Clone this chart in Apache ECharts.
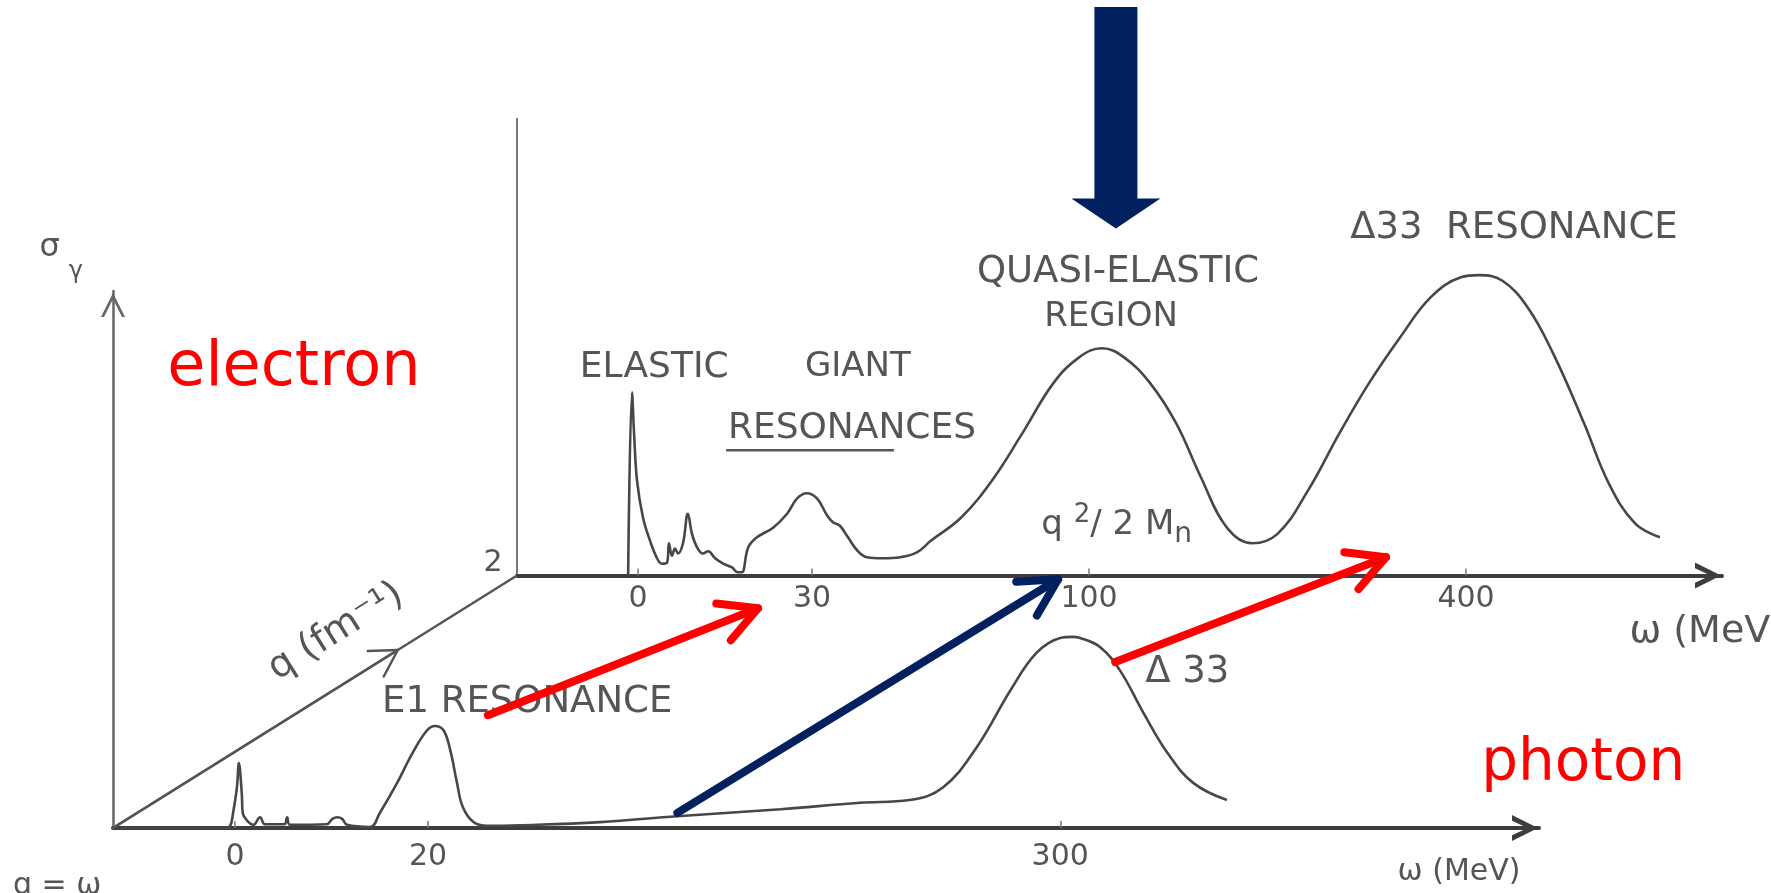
<!DOCTYPE html>
<html>
<head>
<meta charset="utf-8">
<script src="https://cdn.jsdelivr.net/npm/echarts@6/dist/echarts.min.js"></script>
<style>
  html, body { margin: 0; padding: 0; background: #ffffff; }
  #chart { width: 1771px; height: 893px; }
</style>
</head>
<body>
<div id="chart"></div>
<script>
// Real photoabsorption cross section (front plane, q = ω), ω in MeV
const photonOmega = [-12, -1.0, -0.5, -0.2, 0.2, 0.4, 0.7, 0.8, 1.2, 1.9, 2.6, 3.1, 5.1, 5.4, 5.7,
  9.5, 10.1, 10.6, 11.1, 11.6, 14.0, 15.0, 16.8, 18.4, 19.9, 20.7, 21.6, 22.3, 23.0, 23.6, 24.7,
  26.1, 29.5, 68, 107, 159, 199, 224, 241, 258, 275, 288, 300, 306, 310, 320, 330, 342, 354, 367, 384];
const photonSigma = [0, 0, 0.4, 2.8, 7.6, 12.1, 6.5, 2.8, 1.5, 0.6, 2.0, 0.7, 0.7, 2.0, 0.6,
  0.7, 1.7, 2.0, 1.7, 0.6, 0.2, 2.8, 8.4, 14.0, 18.2, 19.0, 18.2, 14.5, 8.4, 3.9, 1.1,
  0.4, 0.5, 1.1, 2.2, 3.5, 4.7, 5.2, 7.6, 15.1, 25.7, 32.6, 35.4, 35.6, 35.4, 33.7, 29.4, 21.4, 14.0, 8.4, 5.2];

// Inclusive electron scattering at fixed momentum transfer (back plane, q ≈ 2 fm^-1)
const electronOmega = [-1.7, -1.03, -0.7, -0.17, 0.86, 2.07, 3.28, 4.14, 5.0, 5.34, 5.86, 6.38, 6.9,
  7.76, 8.6, 9.3, 10.2, 11.2, 12.1, 13.3, 14.7, 16.2, 17.2, 17.9, 19.0, 20.5, 23.3, 25.7, 27.4, 29.1,
  31.3, 33.8, 35.3, 37.0, 39.1, 41.4, 43.9, 47.9, 52.3, 56.5, 60.1, 67.7, 75.5, 83.1, 91.0, 97.5,
  110.3, 127.9, 148.6, 169.4, 189.2, 209.8, 229.8, 250.2, 274.2, 299.1, 322.8, 347.5, 372.0, 396.0,
  410.3, 428.7, 449.1, 469.4, 494.0, 513.7, 534.5, 554.3];
const electronSigma = [0, 34.1, 27, 17.7, 10.8, 6.5, 3.2, 2.2, 2.4, 6.0, 3.7, 5.0, 4.1,
  6.0, 11.5, 7.8, 5.2, 4.1, 4.5, 3.2, 2.2, 1.5, 0.6, 0.6, 5.2, 7.1, 8.9, 11.5, 14.3, 15.3,
  14.3, 11.2, 9.9, 9.3, 7.1, 4.7, 3.4, 3.2, 3.4, 4.3, 6.5, 10.8, 17.7, 26.4, 35.8, 40.6,
  42.3, 40.6, 35.8, 28.3, 18.2, 8.9, 6.0, 7.8, 15.8, 26.4, 35.8, 44.3, 51.8, 55.5,
  55.9, 54.9, 49.9, 41.3, 28.3, 17.1, 9.7, 7.1];

// Tick labels on the two ω axes
const photonTicks = [0, 20, 300];
const electronTicks = [0, 30, 100, 400];

// Broken ω scales: full resolution at low ω, compressed above the breaks
function brokenScale(knots) {
  return function (w) {
    for (let i = 1; i < knots.length; i++) {
      if (w <= knots[i][0] || i === knots.length - 1) {
        const a = knots[i - 1], b = knots[i];
        return a[1] + (w - a[0]) * (b[1] - a[1]) / (b[0] - a[0]);
      }
    }
  };
}
const photonScale = brokenScale([[0, 0], [30, 30], [300, 85.5]]);
const electronScale = brokenScale([[0, 0], [30, 30], [100, 77.76], [400, 142.76]]);

const INK = '#474747';
const TEXT = '#555555';
const RED = '#ff0000';
const NAVY = '#002060';
const FONT = "'DejaVu Sans', 'Liberation Sans', sans-serif";

// open chevrons pointing along the axis
const CHEVRON = 'path://M0,20 L10,0 L20,20 L15.5,20 L10,8 L4.5,20 Z';
const CHEVRON_THIN = 'path://M0,20 L10,0 L20,20 L17.5,20 L10,5 L2.5,20 Z';

function tickFormatter(ticks, scale) {
  return function (v) {
    const t = ticks.find(function (k) { return Math.abs(scale(k) - v) < 1e-6; });
    return t === undefined ? '' : String(t);
  };
}

function omegaAxis(gridIndex, ticks, scale, wMin, wMax, margin, arrowSize) {
  return {
    type: 'value', gridIndex: gridIndex,
    min: scale(wMin), max: scale(wMax),
    axisLine: { show: true, onZero: false, symbol: ['none', CHEVRON], symbolSize: arrowSize,
      symbolOffset: [0, -14], lineStyle: { color: '#3d3d3d', width: 4 } },
    axisTick: { show: true, inside: true, length: 7, customValues: ticks.map(scale),
      lineStyle: { color: '#777', width: 1.5 } },
    axisLabel: { show: true, customValues: ticks.map(scale), formatter: tickFormatter(ticks, scale),
      margin: margin, color: TEXT, fontSize: 30, fontFamily: FONT },
    splitLine: { show: false }
  };
}

const option = {
  backgroundColor: '#ffffff',
  animation: false,
  grid: [
    { left: 113, top: 291, width: 1426, height: 537 },
    { left: 517, top: 118.8, width: 1205, height: 456.7 }
  ],
  xAxis: [
    omegaAxis(0, photonTicks, photonScale, -12.64, 541.3, 14, [26, 34]),
    omegaAxis(1, electronTicks, electronScale, -20.86, 603.7, 9, [26, 36])
  ],
  yAxis: [
    { type: 'value', gridIndex: 0, min: 0, max: 100,
      axisLine: { show: true, onZero: false, symbol: ['none', CHEVRON_THIN], symbolSize: [24, 34],
        symbolOffset: [0, -14], lineStyle: { color: '#666', width: 2.5 } },
      axisTick: { show: false }, axisLabel: { show: false }, splitLine: { show: false } },
    { type: 'value', gridIndex: 1, min: 0, max: 85,
      axisLine: { show: true, onZero: false, lineStyle: { color: '#777', width: 2 } },
      axisTick: { show: false }, axisLabel: { show: false }, splitLine: { show: false } }
  ],
  series: [
    { name: 'photon', type: 'line', xAxisIndex: 0, yAxisIndex: 0, showSymbol: false, smooth: 0.4,
      z: 3, lineStyle: { color: INK, width: 2.6 },
      data: photonOmega.map(function (w, i) { return [photonScale(w), photonSigma[i]]; }) },
    { name: 'electron', type: 'line', xAxisIndex: 1, yAxisIndex: 1, showSymbol: false, smooth: 0.4,
      z: 3, lineStyle: { color: INK, width: 2.6 },
      data: electronOmega.map(function (w, i) { return [electronScale(w), electronSigma[i]]; }) }
  ]
};

const chart = echarts.init(document.getElementById('chart'), null, { renderer: 'canvas' });
chart.setOption(option);

// pixel position of (ω, σ) in the photon (0) or electron (1) plane
function at(plane, w, s) {
  const scale = plane === 0 ? photonScale : electronScale;
  return chart.convertToPixel({ gridIndex: plane }, [scale(w), s]);
}

function label(p, text, size, extra) {
  extra = extra || {};
  const align = extra.align || 'center';
  return {
    type: 'text', x: p[0], y: p[1], rotation: extra.rotation || 0, z: 50,
    style: {
      text: text, fill: extra.color || TEXT,
      font: (extra.weight || 'normal') + ' ' + size + 'px ' + (extra.family || FONT),
      align: align, textAlign: align, verticalAlign: 'middle', textVerticalAlign: 'middle',
      rich: extra.rich
    }
  };
}

function arrow(tail, tip, color, width, armLen, spreadDeg) {
  const dx = tip[0] - tail[0], dy = tip[1] - tail[1], L = Math.hypot(dx, dy);
  const bx = -dx / L, by = -dy / L, a = spreadDeg * Math.PI / 180;
  function wing(sign) {
    const c = Math.cos(sign * a), s = Math.sin(sign * a);
    return [tip[0] + armLen * (bx * c - by * s), tip[1] + armLen * (bx * s + by * c)];
  }
  const st = { stroke: color, lineWidth: width, lineCap: 'round', lineJoin: 'round', fill: 'none' };
  return [
    { type: 'polyline', z: 100, shape: { points: [tail, tip] }, style: st },
    { type: 'polyline', z: 100, shape: { points: [wing(1), tip, wing(-1)] }, style: st }
  ];
}

// q axis joining the two planes
const o0 = at(0, -12.64, 0), o1 = at(1, -20.86, 0);
const qTip = [o0[0] + 0.705 * (o1[0] - o0[0]), o0[1] + 0.705 * (o1[1] - o0[1])];
const qAng = Math.atan2(o0[1] - o1[1], o1[0] - o0[0]);
const qLen = Math.hypot(o1[0] - o0[0], o1[1] - o0[1]);
const qDir = [(o1[0] - o0[0]) / qLen, (o1[1] - o0[1]) / qLen];
const qNorm = [qDir[1], -qDir[0]];
const qLab = [o0[0] + 0.615 * (o1[0] - o0[0]) + 48 * qNorm[0], o0[1] + 0.615 * (o1[1] - o0[1]) + 48 * qNorm[1]];

// big marker over the quasi-elastic region
const bigTip = at(1, 121.4, 64.6), bigTop = at(1, 121.4, 105.8);
const bigArrow = {
  type: 'polygon', z: 100,
  shape: { points: [
    [bigTip[0] - 21.5, bigTop[1]], [bigTip[0] + 21.5, bigTop[1]], [bigTip[0] + 21.5, bigTip[1] - 30],
    [bigTip[0] + 44.5, bigTip[1] - 30], [bigTip[0], bigTip[1]], [bigTip[0] - 44.5, bigTip[1] - 30],
    [bigTip[0] - 21.5, bigTip[1] - 30]
  ] },
  style: { fill: NAVY }
};

const underA = at(1, 15.2, 23.3), underB = at(1, 50.7, 23.3);

const graphics = [
  { type: 'polyline', z: 4, shape: { points: [o0, o1] }, style: { stroke: '#555', lineWidth: 2.5, fill: 'none' } }
].concat(arrow(o0, qTip, '#555', 2.5, 30, 30)).concat([
  label(qLab, 'q (fm⁻¹)', 38, { rotation: qAng }),
  label(at(1, -25, 2.2), '2', 30),
  label(at(0, -19.2, 108), 'σ', 32),
  label(at(0, -16.5, 103.5), 'γ', 24),
  label(at(0, -23, -10.8), 'q = ω', 30, { align: 'left' }),
  label(at(0, 501, -8.2), 'ω (MeV)', 30),
  label(at(1, 530, -10.6), 'ω (MeV)', 38, { align: 'left' }),
  label(at(0, 31.3, 23.3), 'E1 RESONANCE', 37),
  label(at(0, 364, 29.0), 'Δ 33', 37),
  label(at(1, 2.8, 38.7), 'ELASTIC', 36),
  label(at(1, 41.6, 38.7), 'GIANT', 34),
  label(at(1, 40.1, 27.4), 'RESONANCES', 36),
  { type: 'line', z: 50, shape: { x1: underA[0], y1: underA[1], x2: underB[0], y2: underB[1] },
    style: { stroke: '#555', lineWidth: 2.5 } },
  label(at(1, 123.1, 56.4), 'QUASI-ELASTIC', 37),
  label(at(1, 117.5, 48.0), 'REGION', 34),
  label(at(1, 438.1, 64.6), 'Δ33  RESONANCE', 37),
  label(at(1, 122, 9.3), '{b|q }{sup|2}{b|/ 2 M}{sub|n}', 34, {
    rich: {
      b: { fontSize: 34, fontFamily: FONT, fill: TEXT, lineHeight: 46, verticalAlign: 'middle' },
      sup: { fontSize: 26, fontFamily: FONT, fill: TEXT, lineHeight: 46, verticalAlign: 'top' },
      sub: { fontSize: 28, fontFamily: FONT, fill: TEXT, lineHeight: 46, verticalAlign: 'bottom' }
    }
  }),
  label(at(0, 6.1, 85.5), 'electron', 62, { color: RED }),
  label(at(0, 563.6, 11.7), 'photon', 58, { color: RED }),
  bigArrow
]).concat(arrow(at(0, 26.2, 21.0), at(1, 20.7, -6.1), RED, 8, 42, 28))
  .concat(arrow(at(0, 107, 2.8), at(1, 92.2, -0.7), NAVY, 8, 42, 28))
  .concat(arrow(at(0, 327.7, 30.9), at(1, 336.3, 3.4), RED, 8, 42, 28));

chart.setOption({ graphic: graphics });
</script>
</body>
</html>
